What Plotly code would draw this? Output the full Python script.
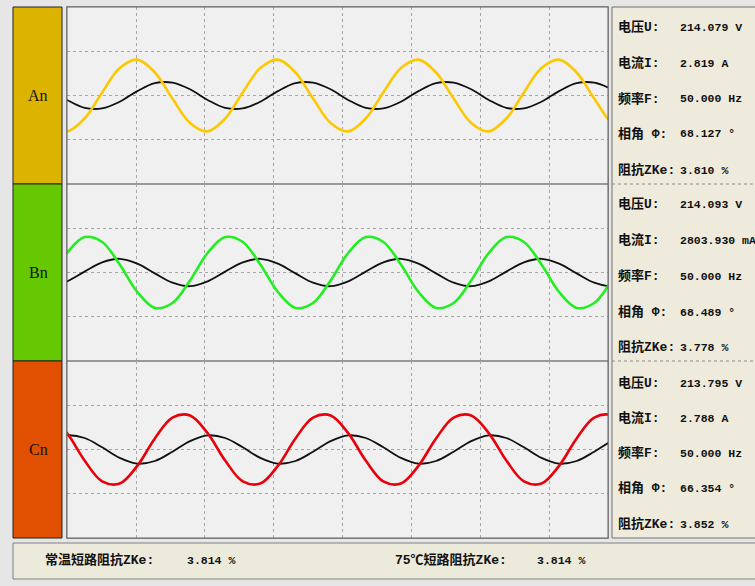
import plotly.graph_objects as go
from plotly.subplots import make_subplots

W, H = 755, 586

# sample times (ms), one sample every 2.5 ms
t_ms = [-2.5, 0.0, 2.5, 5.0, 7.5, 10.0, 12.5, 15.0, 17.5, 20.0, 22.5, 25.0,
        27.5, 30.0, 32.5, 35.0, 37.5, 40.0, 42.5, 45.0, 47.5, 50.0, 52.5,
        55.0, 57.5, 60.0, 62.5, 65.0, 67.5, 70.0, 72.5, 75.0, 77.5, 80.0]

# waveform readings (grid divisions, centre = 0)
a_wave = [-0.62, -0.81, -0.52, 0.07, 0.62, 0.81, 0.52, -0.07,
          -0.62, -0.81, -0.52, 0.07, 0.62, 0.81, 0.52, -0.07,
          -0.62, -0.81, -0.52, 0.07, 0.62, 0.81, 0.52, -0.07,
          -0.62, -0.81, -0.52, 0.07, 0.62, 0.81, 0.52, -0.07,
          -0.62, -0.81]
a_black = [0.14, -0.10, -0.28, -0.29, -0.14, 0.10, 0.28, 0.29,
           0.14, -0.10, -0.28, -0.29, -0.14, 0.10, 0.28, 0.29,
           0.14, -0.10, -0.28, -0.29, -0.14, 0.10, 0.28, 0.29,
           0.14, -0.10, -0.28, -0.29, -0.14, 0.10, 0.28, 0.29,
           0.14, -0.10]
b_wave = [-0.18, 0.44, 0.80, 0.69, 0.18, -0.44, -0.80, -0.69,
          -0.18, 0.44, 0.80, 0.69, 0.18, -0.44, -0.80, -0.69,
          -0.18, 0.44, 0.80, 0.69, 0.18, -0.44, -0.80, -0.69,
          -0.18, 0.44, 0.80, 0.69, 0.18, -0.44, -0.80, -0.69,
          -0.18, 0.44]
b_black = [-0.31, -0.20, 0.02, 0.23, 0.31, 0.20, -0.02, -0.23,
           -0.31, -0.20, 0.02, 0.23, 0.31, 0.20, -0.02, -0.23,
           -0.31, -0.20, 0.02, 0.23, 0.31, 0.20, -0.02, -0.23,
           -0.31, -0.20, 0.02, 0.23, 0.31, 0.20, -0.02, -0.23,
           -0.31, -0.20]
c_wave = [0.77, 0.37, -0.25, -0.72, -0.77, -0.37, 0.25, 0.72,
          0.77, 0.37, -0.25, -0.72, -0.77, -0.37, 0.25, 0.72,
          0.77, 0.37, -0.25, -0.72, -0.77, -0.37, 0.25, 0.72,
          0.77, 0.37, -0.25, -0.72, -0.77, -0.37, 0.25, 0.72,
          0.77, 0.37]
c_black = [0.19, 0.32, 0.26, 0.05, -0.19, -0.32, -0.26, -0.05,
           0.19, 0.32, 0.26, 0.05, -0.19, -0.32, -0.26, -0.05,
           0.19, 0.32, 0.26, 0.05, -0.19, -0.32, -0.26, -0.05,
           0.19, 0.32, 0.26, 0.05, -0.19, -0.32, -0.26, -0.05,
           0.19, 0.32]

phase_names = ["An", "Bn", "Cn"]
box_colors = ["#dcb400", "#66c800", "#e05000"]
wave_colors = ["#fcc800", "#22ee22", "#e8000a"]

info_labels = ["电压U:", "电流I:", "频率F:", "相角 Φ:", "阻抗ZKe:"]
a_info = ["214.079 V", "2.819 A", "50.000 Hz", "68.127 °", "3.810 %"]
b_info = ["214.093 V", "2803.930 mA", "50.000 Hz", "68.489 °", "3.778 %"]
c_info = ["213.795 V", "2.788 A", "50.000 Hz", "66.354 °", "3.852 %"]

bottom_labels = ["常温短路阻抗ZKe:", "75℃短路阻抗ZKe:"]
bottom_values = ["3.814 %", "3.814 %"]


def px(x, y):
    return x / W, 1 - y / H


fig = make_subplots(rows=3, cols=1, shared_xaxes=True, vertical_spacing=0)

waves = [(a_wave, a_black), (b_wave, b_black), (c_wave, c_black)]
for i, (w, k) in enumerate(waves):
    fig.add_trace(go.Scatter(x=t_ms, y=k, mode="lines", line_shape="spline",
                             line=dict(color="#111111", width=1.8)), row=i + 1, col=1)
    fig.add_trace(go.Scatter(x=t_ms, y=w, mode="lines", line_shape="spline",
                             line=dict(color=wave_colors[i], width=2.6)), row=i + 1, col=1)

# panel edges in pixels
edges = [7, 184, 361, 538]
x_dom = [67 / W, 608 / W]
for i in range(3):
    top = 1 - edges[i] / H
    bot = 1 - edges[i + 1] / H
    fig.update_layout({f"yaxis{'' if i == 0 else i + 1}": dict(domain=[bot, top]),
                       f"xaxis{'' if i == 0 else i + 1}": dict(domain=x_dom)})

fig.update_xaxes(range=[0, 76.96], tick0=0, dtick=9.815, showticklabels=False,
                 ticks="", showgrid=True, gridcolor="#a6a6a6", griddash="dot",
                 gridwidth=1, zeroline=False, showline=True, linecolor="#999999",
                 mirror=True)
fig.update_yaxes(range=[-2, 2], tickvals=[-1, 0, 1], showticklabels=False,
                 ticks="", showgrid=True, gridcolor="#a6a6a6", griddash="dot",
                 gridwidth=1, zeroline=False, showline=True, linecolor="#999999",
                 mirror=True)

shapes = []
annotations = []


def add_text(x_px, y_px, text, font, anchor="left"):
    x, y = px(x_px, y_px)
    annotations.append(dict(x=x, y=y, xref="paper", yref="paper", text=text,
                            showarrow=False, xanchor=anchor, yanchor="middle",
                            font=font))


# outer frame of the plot area
x0, y0 = px(67, 7)
x1, y1 = px(608, 538)
shapes.append(dict(type="rect", xref="paper", yref="paper", x0=x0, y0=y1,
                   x1=x1, y1=y0, line=dict(color="#606060", width=1)))

# left colour boxes with phase names
name_font = dict(family="Liberation Serif", size=16, color="#111111")
for i in range(3):
    bx0, by0 = px(13, edges[i])
    bx1, by1 = px(62, edges[i + 1])
    shapes.append(dict(type="rect", xref="paper", yref="paper", x0=bx0, y0=by1,
                       x1=bx1, y1=by0, fillcolor=box_colors[i],
                       line=dict(color="#222222", width=1)))
    add_text(38, (edges[i] + edges[i + 1]) / 2, phase_names[i], name_font, "center")

# right info panel
rx0, ry0 = px(612, 7)
rx1, ry1 = px(760, 538)
shapes.append(dict(type="rect", xref="paper", yref="paper", x0=rx0, y0=ry1,
                   x1=rx1, y1=ry0, fillcolor="#eeebdd",
                   line=dict(color="#707070", width=1)))
for e in edges[1:3]:
    sx0, sy = px(612, e)
    sx1, _ = px(755, e)
    shapes.append(dict(type="line", xref="paper", yref="paper", x0=sx0, y0=sy,
                       x1=sx1, y1=sy, line=dict(color="#8a8a8a", width=1, dash="dot")))

row_y = [[27, 63, 99, 134, 170], [204, 240, 276, 312, 347], [383, 418, 453, 488, 524]]
label_font = dict(family="Liberation Mono, Noto Sans CJK SC", size=13, color="#111111",
                  weight="bold")
value_font = dict(family="Liberation Mono, Noto Sans CJK SC", size=11.5, color="#111111",
                  weight="bold")
for i, vals in enumerate([a_info, b_info, c_info]):
    for j, lab in enumerate(info_labels):
        add_text(616, row_y[i][j], lab, label_font)
        add_text(678, row_y[i][j], vals[j], value_font)

# bottom summary bar
bx0, by0 = px(13, 543)
bx1, by1 = px(760, 579)
shapes.append(dict(type="rect", xref="paper", yref="paper", x0=bx0, y0=by1,
                   x1=bx1, y1=by0, fillcolor="#eceadb",
                   line=dict(color="#808080", width=1)))
for lab, val, lx_px, vx_px in zip(bottom_labels, bottom_values, [43, 393], [185, 535]):
    add_text(lx_px, 560, lab, label_font)
    add_text(vx_px, 560, val, value_font)

fig.update_layout(
    width=W, height=H,
    margin=dict(l=0, r=0, t=0, b=0),
    paper_bgcolor="#e6e6e6",
    plot_bgcolor="#f0f0f0",
    showlegend=False,
    shapes=shapes,
    annotations=annotations,
)

fig.write_html("out.html", config={"displayModeBar": False},
               post_script="document.body.style.margin='0';")
